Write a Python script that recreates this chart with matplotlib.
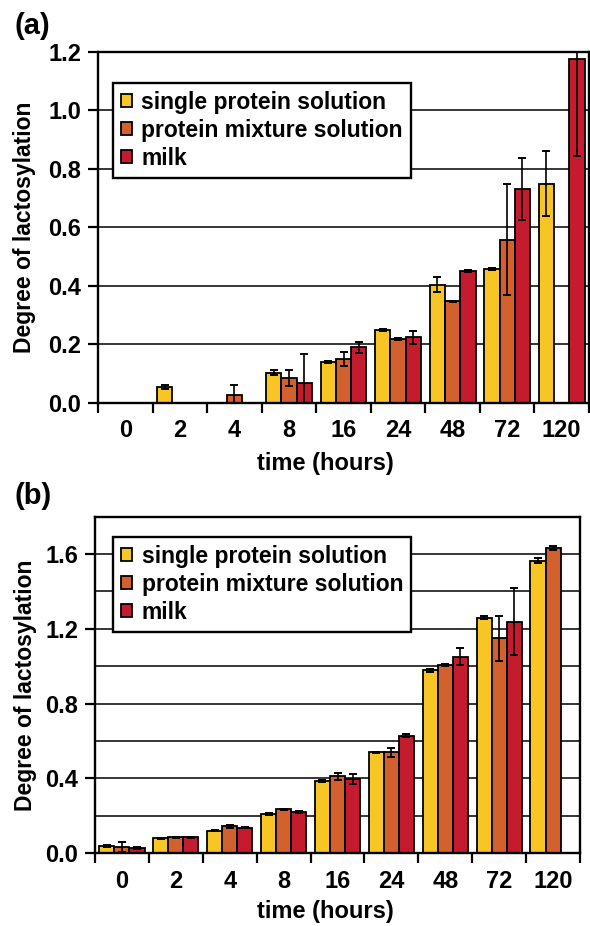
import numpy as np
import matplotlib
matplotlib.use("Agg")
import matplotlib.pyplot as plt
from matplotlib.patches import Patch
from matplotlib.ticker import FixedLocator, NullFormatter

plt.rcParams['font.family'] = ['Liberation Sans', 'DejaVu Sans']
plt.rcParams['font.weight'] = 'bold'

nan = np.nan
categories = ['0', '2', '4', '8', '16', '24', '48', '72', '120']
series_names = ['single protein solution', 'protein mixture solution', 'milk']
colors = ['#F7C524', '#D3612D', '#C41B2F']

# Panel (a)
a_single = [nan, 0.054, nan, 0.103, 0.140, 0.248, 0.403, 0.457, 0.749]
a_single_err = [nan, 0.006, nan, 0.010, 0.004, 0.003, 0.026, 0.003, 0.110]
a_mix = [nan, nan, 0.026, 0.084, 0.149, 0.217, 0.346, 0.557, nan]
a_mix_err = [nan, nan, 0.034, 0.028, 0.025, 0.003, 0.003, 0.190, nan]
a_milk = [nan, nan, nan, 0.069, 0.189, 0.223, 0.449, 0.731, 1.174]
a_milk_err = [nan, nan, nan, 0.097, 0.020, 0.021, 0.003, 0.105, 0.330]
a_yticks = [0.0, 0.2, 0.4, 0.6, 0.8, 1.0, 1.2]
a_grid = [0.2, 0.4, 0.6, 0.8, 1.0]

# Panel (b)
b_single = [0.039, 0.078, 0.119, 0.210, 0.384, 0.538, 0.977, 1.260, 1.565]
b_single_err = [0.005, 0.003, 0.003, 0.004, 0.005, 0.004, 0.006, 0.010, 0.015]
b_mix = [0.030, 0.083, 0.142, 0.234, 0.410, 0.538, 1.007, 1.149, 1.632]
b_mix_err = [0.027, 0.003, 0.006, 0.003, 0.020, 0.025, 0.004, 0.120, 0.010]
b_milk = [0.027, 0.083, 0.136, 0.221, 0.396, 0.627, 1.051, 1.239, nan]
b_milk_err = [0.004, 0.003, 0.003, 0.005, 0.025, 0.008, 0.045, 0.177, nan]
b_yticks = [0.0, 0.4, 0.8, 1.2, 1.6]
b_grid = [0.2, 0.4, 0.6, 0.8, 1.0, 1.2, 1.4, 1.6]

W, H = 590, 926
fig = plt.figure(figsize=(W / 100, H / 100), dpi=100)

def px_axes(l, t, r, b):
    return fig.add_axes([l / W, 1 - b / H, (r - l) / W, (b - t) / H])

ax_a = px_axes(98, 51.7, 589, 402.7)
ax_b = px_axes(95, 516.7, 580, 853)

bar_w = 0.28

def draw(ax, vals, errs, ymax, grid, yticks, ylab_x, xlab_x):
    x = np.arange(len(categories))
    for i, (v, e) in enumerate(zip(vals, errs)):
        v = np.array(v, float)
        e = np.array(e, float)
        pos = x + (i - 1) * bar_w
        ax.bar(pos, v, bar_w, color=colors[i], edgecolor='black',
               linewidth=1.3, zorder=3)
        ax.errorbar(pos, v, yerr=e, fmt='none', ecolor='black',
                    elinewidth=1.2, capsize=3.2, capthick=1.4, zorder=4)
    ax.set_xlim(-0.5, len(categories) - 0.5)
    ax.set_ylim(0, ymax)
    for g in grid:
        ax.axhline(g, color='black', linewidth=1.1, zorder=1)
    ax.set_yticks(yticks)
    ax.set_yticklabels([f'{t:.1f}' for t in yticks], fontsize=17, fontweight='bold')
    ax.set_xticks(x)
    ax.set_xticklabels(categories, fontsize=17, fontweight='bold')
    ax.xaxis.set_minor_locator(FixedLocator(np.arange(-0.5, len(categories), 1.0)))
    ax.xaxis.set_minor_formatter(NullFormatter())
    ax.tick_params(axis='x', which='major', length=0, pad=12)
    ax.tick_params(axis='x', which='minor', length=7, width=1.6, direction='out')
    ax.tick_params(axis='y', which='major', length=7, width=1.6, direction='out', pad=5)
    for s in ax.spines.values():
        s.set_linewidth(1.7)
        s.set_zorder(5)
    ax.set_ylabel('Degree of lactosylation', fontsize=16.5, fontweight='bold')
    ax.yaxis.set_label_coords(ylab_x, 0.5)
    ax.set_xlabel('time (hours)', fontsize=17, fontweight='bold')
    ax.xaxis.set_label_coords(xlab_x, -0.14)
    handles = [Patch(facecolor=c, edgecolor='black', linewidth=1.3) for c in colors]
    return handles

def legend(ax, h, anchor):
    leg = ax.legend(h, series_names, loc='upper left', bbox_to_anchor=anchor,
                    borderaxespad=0, fancybox=False, framealpha=1, edgecolor='black',
                    prop={'size': 16.5, 'weight': 'bold'}, handlelength=0.5,
                    handleheight=0.5, handletextpad=0.4, labelspacing=0.22,
                    borderpad=0.35)
    leg.get_frame().set_linewidth(1.7)
    leg.set_zorder(6)

h = draw(ax_a, [a_single, a_mix, a_milk], [a_single_err, a_mix_err, a_milk_err],
         1.2, a_grid, a_yticks, -0.126, 0.464)
legend(ax_a, h, (0.03, 0.911))

h = draw(ax_b, [b_single, b_mix, b_milk], [b_single_err, b_mix_err, b_milk_err],
         1.8, b_grid, b_yticks, -0.12, 0.476)
legend(ax_b, h, (0.037, 0.94))

fig.text(14 / W, 1 - 26 / H, '(a)', fontsize=21, fontweight='bold', ha='left', va='center')
fig.text(14 / W, 1 - 496 / H, '(b)', fontsize=21, fontweight='bold', ha='left', va='center')

fig.savefig('out.png', dpi=100)
